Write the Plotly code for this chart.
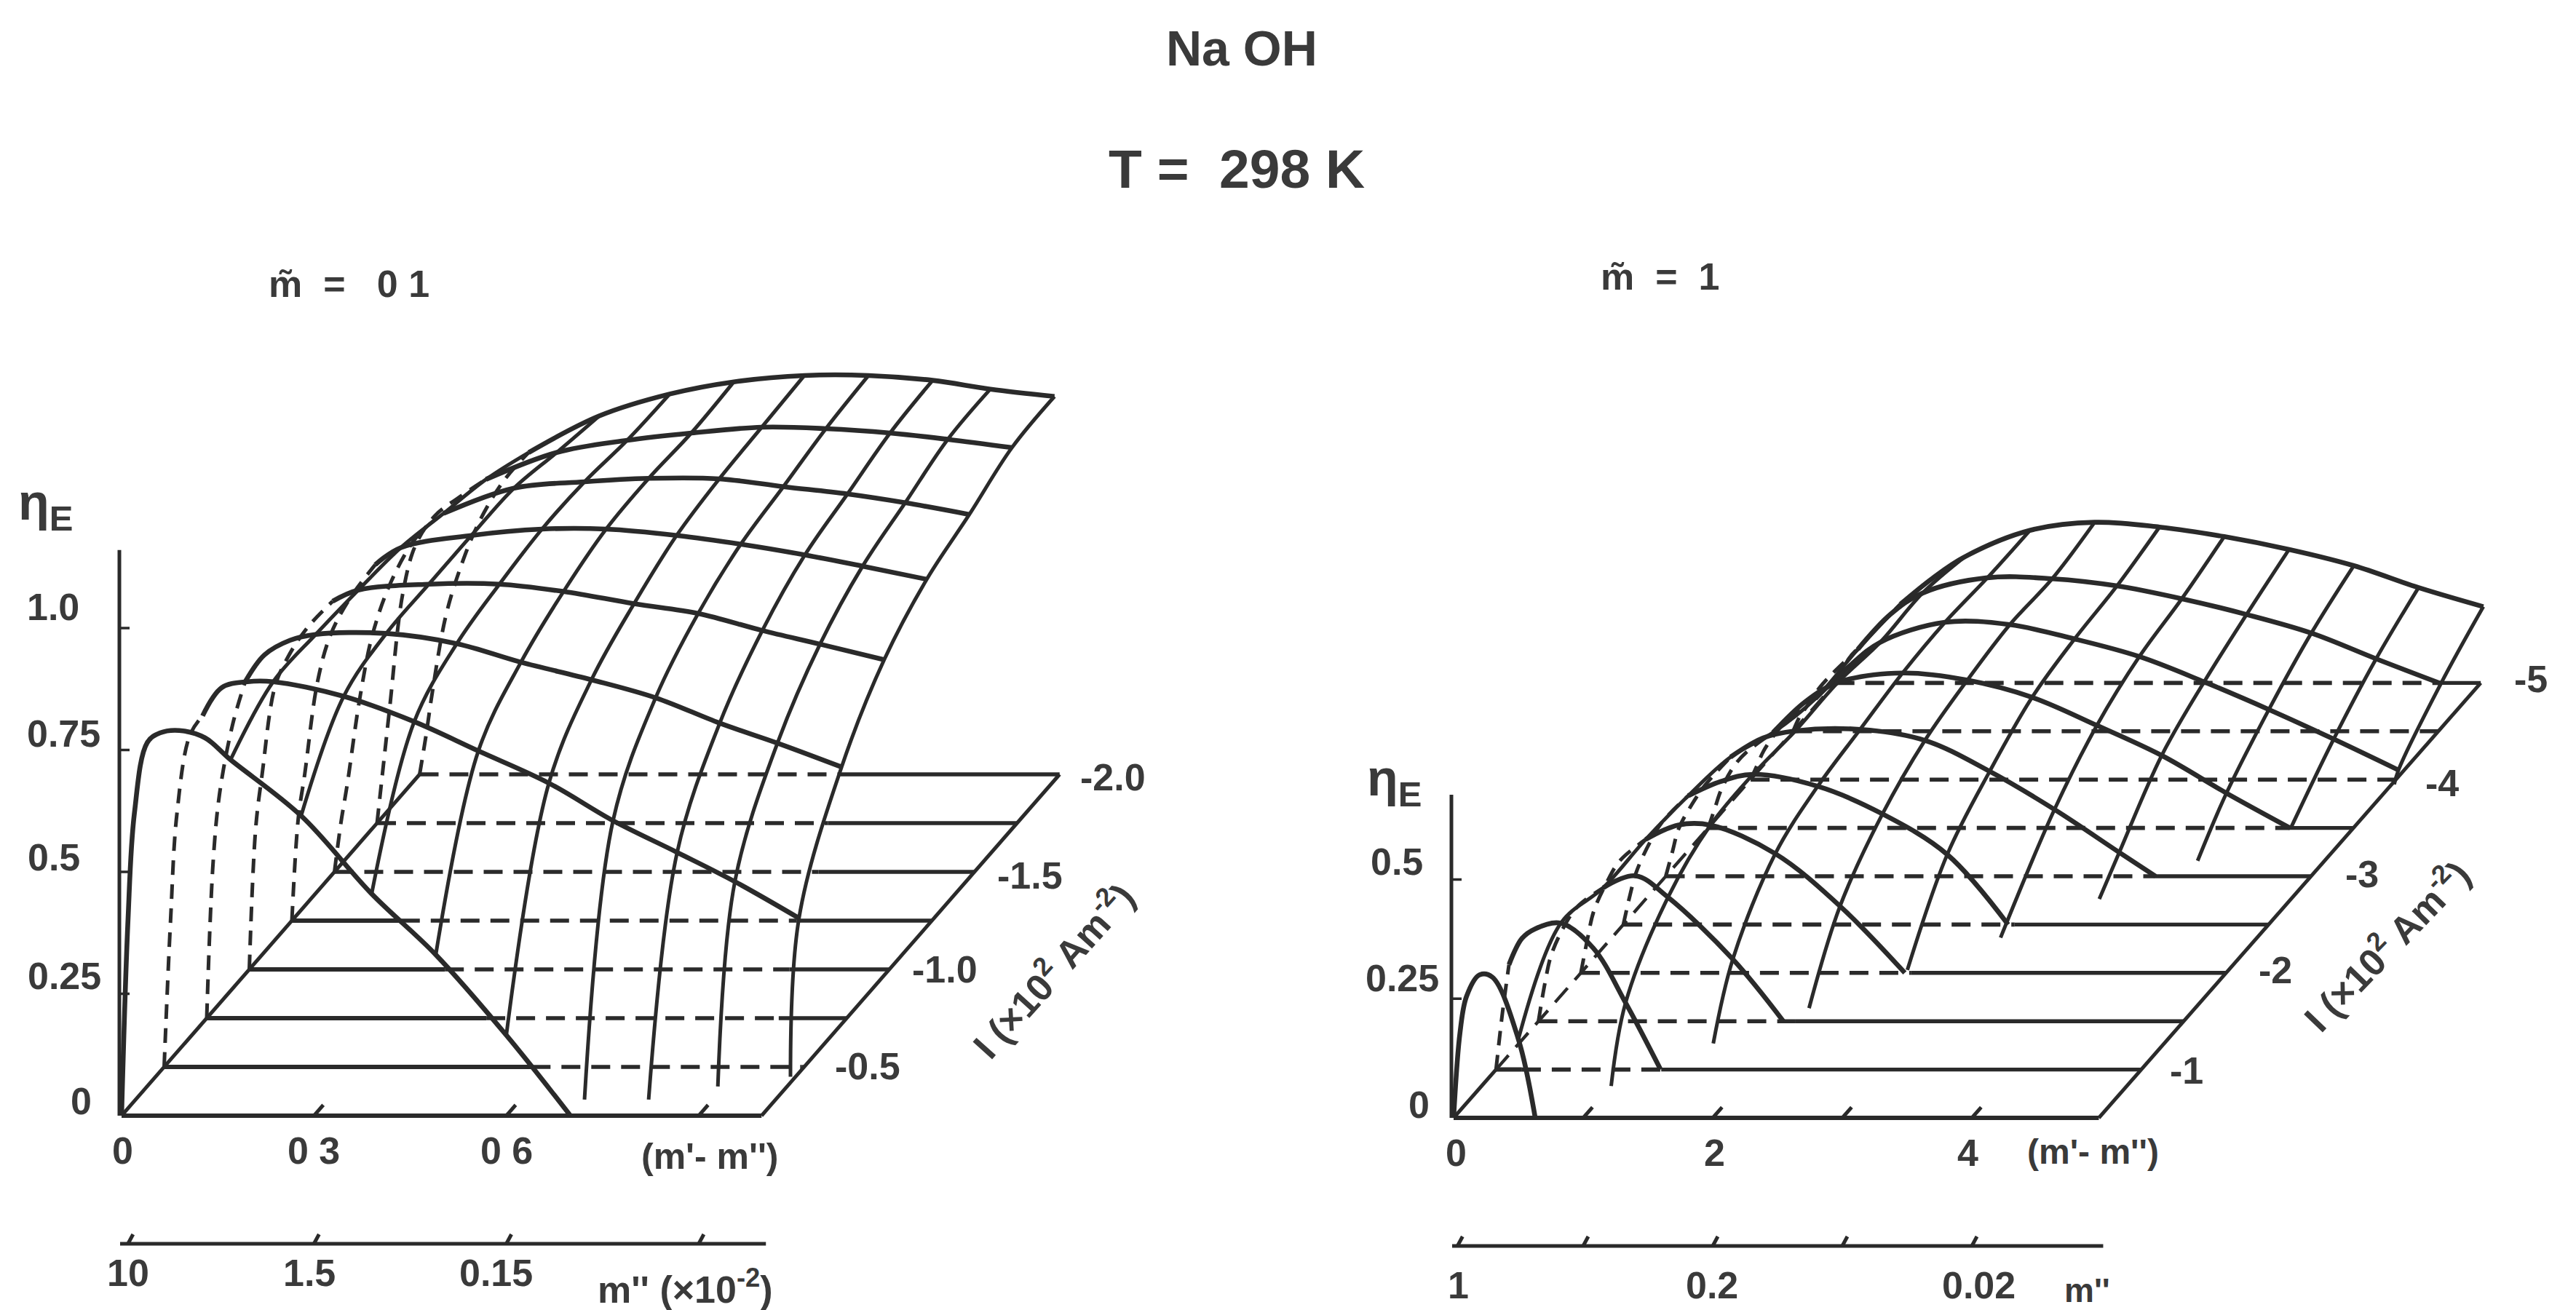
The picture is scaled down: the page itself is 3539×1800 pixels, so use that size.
import plotly.graph_objects as go

# ---------- left panel data (m~ = 0.1) ----------
L_M = [0, .01, .02, .04, .06, .09, .13, .17, .28, .39, .49, .60, .70, .80, .89, .99]
L_ETA_0 = [0, .40, .62, .765, .785, .79, .775, .73, .615, .455, .33, .165, 0, None, None, None]
L_ETA_1 = [0, .30, .52, .68, .72, .778, .79, .79, .76, .708, .648, .582, .505, .44, .38, .305]
L_ETA_2 = [0, .32, .46, .60, .69, .745, .775, .787, .789, .768, .73, .694, .657, .605, .564, .515]
L_ETA_3 = [0, .29, .40, .58, .64, .70, .755, .778, .79, .79, .775, .75, .73, .695, .667, .635]
L_ETA_4 = [0, .21, .30, .49, .585, .66, .73, .765, .79, .803, .803, .79, .772, .75, .727, .70]
L_ETA_5 = [0, .10, .18, .36, .49, .60, .69, .735, .787, .80, .807, .806, .79, .775, .757, .733]
L_ETA_6 = [0, .12, .24, .47, .57, .63, .67, .705, .76, .785, .80, .812, .809, .80, .787, .77]
L_ETA_7 = [0, .08, .17, .32, .41, .51, .60, .66, .735, .78, .805, .818, .818, .808, .79, .775]
L_ETA = [L_ETA_0, L_ETA_1, L_ETA_2, L_ETA_3, L_ETA_4, L_ETA_5, L_ETA_6, L_ETA_7]
L_SOLID_FROM = [0, .06, .06, .13, .13, .17, .17, .17]
L_END_M = [None] * 8
L_MESH_M = [.17, .28, .39, .49, .60, .70, .80, .89, .99]
L_MESH_START = [0, 0, 0, 0, 0, .33, .33, .6, .8]
L_FLOOR_SOLID = [None, .573, .436, .305, .17, 0, 0, 0]
L_FLOOR_DASH = [None, .994, .892, .842, .787, .755, .703, .656]
L_ETA_TICKS = [.25, .5, .75, 1.0]
L_ETA_LABELS = ["0", "0.25", "0.5", "0.75", "1.0"]
L_BASE_TICKS = [.3, .6, .9]
L_BASE_LABELS = [("0", 0), ("0 3", .3), ("0 6", .6)]
L_CONC_TICKS = [.01, .3, .6, .9]
L_CONC_LABELS = ["10", "1.5", "0.15"]
L_I_LABELS = ["-0.5", "-1.0", "-1.5", "-2.0"]

# ---------- right panel data (m~ = 1) ----------
R_M = [0, .05, .1, .2, .3, .5, .75, 1, 1.5, 2, 2.5, 3, 3.5, 4, 4.5, 5]
R_ETA_0 = [0, .18, .255, .30, .295, .165, None, None, None, None, None, None, None, None, None, None]
R_ETA_1 = [0, .12, .22, .275, .295, .307, .255, .14, None, None, None, None, None, None, None, None]
R_ETA_2 = [0, .08, .14, .20, .24, .28, .305, .26, .13, None, None, None, None, None, None, None]
R_ETA_3 = [0, .07, .13, .19, .235, .28, .31, .31, .25, .14, None, None, None, None, None, None]
R_ETA_4 = [0, .06, .11, .17, .215, .27, .30, .315, .29, .232, .147, None, None, None, None, None]
R_ETA_5 = [0, .05, .10, .15, .19, .25, .29, .305, .308, .285, .22, .14, .05, None, None, None]
R_ETA_6 = [0, .04, .08, .13, .16, .20, .265, .305, .325, .31, .274, .215, .152, .073, None, None]
R_ETA_7 = [0, .03, .06, .10, .13, .17, .235, .288, .33, .325, .295, .258, .205, .147, .085, .02]
R_ETA_8 = [0, .03, .05, .09, .12, .172, .245, .29, .322, .32, .305, .278, .245, .206, .152, .10]
R_ETA_9 = [0, .02, .05, .08, .11, .165, .22, .265, .32, .337, .327, .307, .28, .246, .20, .16]
R_ETA = [R_ETA_0, R_ETA_1, R_ETA_2, R_ETA_3, R_ETA_4, R_ETA_5, R_ETA_6, R_ETA_7, R_ETA_8, R_ETA_9]
R_SOLID_FROM = [0, .1, .5, .5, .5, .5, .5, .5, .5, .5]
R_END_M = [.63, 1.27, 1.89, 2.5, 2.97, 3.78, 4.49, None, None, None]
R_MESH_M = [.5, 1, 1.5, 2, 2.5, 3, 3.5, 4, 4.5, 5]
R_MESH_START = [0, .66, 1.54, 2.27, 3.06, 3.73, 4.53, 5.32, 5.98, 6.9]
R_FLOOR_SOLID = [None, .2, 0, 0, 0, 0, 0, 0, 0, 0]
R_FLOOR_DASH = [None, 1.275, 1.98, 2.55, 3.02, 3.795, 4.49, 4.98, 4.98, 4.68]
R_ETA_TICKS = [.25, .5]
R_BASE_TICKS = [1, 2, 3, 4]
R_CONC_TICKS = [.03, 1, 2, 3, 4]
R_CONC_LABELS = ["1", "0.2", "0.02"]
R_I_LABELS = ["-1", "-2", "-3", "-4", "-5"]

INK = "#2a2a2a"
TEXT_INK = "#3a3a3a"
FONT = "Liberation Sans"
DASH = "26px,15px"
THIN, THICK = 5, 6.6

LEFT = dict(x0=167, y0=1533, ax=881, bx=58.5, by=67, h=670, mmax=.998, conc_y=1709)
RIGHT = dict(x0=1997, y0=1536, ax=178, bx=58.3, by=66.4, h=655, mmax=4.98, conc_y=1712)


def proj(p, m, k, eta=0):
    return p["x0"] + p["ax"] * m + p["bx"] * k, p["y0"] - p["by"] * k - p["h"] * eta


fig = go.Figure()


def line(pts, width=THIN, dash=None, spline=False):
    fig.add_trace(go.Scatter(
        x=[q[0] for q in pts], y=[q[1] for q in pts], mode="lines", hoverinfo="skip",
        line=dict(color=INK, width=width, dash=dash or "solid",
                  shape="spline" if spline else "linear", smoothing=1.0)))


def draw_surface(p, M, ETA, solid_from, end_m, mesh_m, mesh_start, floor_solid, floor_dash, depth_solid_k):
    n = len(ETA)
    line([proj(p, 0, 0), proj(p, p["mmax"], 0)], THICK - .6)
    line([proj(p, p["mmax"], 0), proj(p, p["mmax"], n - 1)], THIN)
    line([proj(p, 0, 0), proj(p, 0, depth_solid_k)], THIN)
    if depth_solid_k < n - 1:
        line([proj(p, 0, depth_solid_k), proj(p, 0, n - 1)], THIN - .6, DASH)
    for k in range(1, n):
        s, d = floor_solid[k], floor_dash[k]
        if s > 0:
            line([proj(p, 0, k), proj(p, s, k)], THICK - .6)
        line([proj(p, s, k), proj(p, d, k)], THICK - 1, DASH)
        if d < p["mmax"]:
            line([proj(p, d, k), proj(p, p["mmax"], k)], THIN + .4)
    for m, start in zip(mesh_m, mesh_start):
        j = M.index(m)
        pts = [proj(p, m, start, 0)] if start > 0 else []
        for k in range(n):
            if k >= start and ETA[k][j] is not None:
                pts.append(proj(p, m, k, ETA[k][j]))
        line(pts, THIN, spline=True)
    for k, row in enumerate(ETA):
        ms = [(m, e) for m, e in zip(M, row) if e is not None]
        if end_m[k] is not None:
            ms.append((end_m[k], 0))
        hidden = [proj(p, m, k, e) for m, e in ms if m <= solid_from[k]]
        seen = [proj(p, m, k, e) for m, e in ms if m >= solid_from[k]]
        if len(hidden) > 1:
            line(hidden, THIN, "20px,13px", spline=True)
        line(seen, THICK, spline=True)


def label(x, y, text, size=52, angle=0):
    fig.add_annotation(x=x, y=y, text=text, showarrow=False, textangle=angle,
                       font=dict(family=FONT, size=size, color=TEXT_INK, weight=700),
                       xanchor="center", yanchor="middle")


def draw_axes(p, eta_top, eta_ticks, base_ticks, conc_ticks):
    ax_x = p["x0"] - 3
    line([(ax_x, p["y0"]), (ax_x, p["y0"] - p["h"] * eta_top)], THIN)
    for e in eta_ticks:
        y = p["y0"] - p["h"] * e
        line([(ax_x, y), (ax_x + 14, y)], 3.5)
    for m in base_ticks:
        line([proj(p, m, 0), proj(p, m, .22)], THIN)
    xe = proj(p, p["mmax"], 0)[0] + 6
    line([(p["x0"] - 2, p["conc_y"]), (xe, p["conc_y"])], THIN)
    for m in conc_ticks:
        x = proj(p, m, 0)[0]
        line([(x, p["conc_y"]), (x + 7, p["conc_y"] - 13)], THIN)


draw_surface(LEFT, L_M, L_ETA, L_SOLID_FROM, L_END_M, L_MESH_M, L_MESH_START,
             L_FLOOR_SOLID, L_FLOOR_DASH, 7)
draw_surface(RIGHT, R_M, R_ETA, R_SOLID_FROM, R_END_M, R_MESH_M, R_MESH_START,
             R_FLOOR_SOLID, R_FLOOR_DASH, 1)
draw_axes(LEFT, 1.16, L_ETA_TICKS, L_BASE_TICKS, L_CONC_TICKS)
draw_axes(RIGHT, .678, R_ETA_TICKS, R_BASE_TICKS, R_CONC_TICKS)

label(1706, 66, "Na OH", 68)
label(1699, 232, "T =\u00a0\u00a0298\u00a0K", 75)
label(479, 390, "m\u0303\u00a0\u00a0=\u00a0\u00a0\u00a00\u00a01", 52)
label(2280, 380, "m\u0303\u00a0\u00a0=\u00a0\u00a01", 52)

for (x, y), t in zip([(111, 1513), (88, 1341), (74, 1178), (87, 1008), (73, 834)], L_ETA_LABELS):
    label(x, y, t)
label(62, 695, "\u03b7<sub>E</sub>", 70)
for t, m in L_BASE_LABELS:
    label(proj(LEFT, m, 0)[0] - (0 if m else -1), 1581, t)
label(975, 1589, "(m'- m'')", 50)
for x, t in zip([176, 425, 681], L_CONC_LABELS):
    label(x, 1749, t)
label(941, 1768, "m'' (\u00d710<sup>-2</sup>)", 52)
for (x, y), t in zip([(1192, 1465), (1298, 1332), (1415, 1203), (1529, 1068)], L_I_LABELS):
    label(x, y, t)
label(1445, 1332, "I (\u00d710<sup>2</sup> Am<sup>-2</sup>)", 52, -48)

for (x, y), t in zip([(1949, 1518), (1926, 1344), (1919, 1184)], ["0", "0.25", "0.5"]):
    label(x, y, t)
label(1915, 1074, "\u03b7<sub>E</sub>", 70)
for x, t in zip([2000, 2355, 2703], ["0", "2", "4"]):
    label(x, 1584, t)
label(2875, 1582, "(m'- m'')", 48)
for x, t in zip([2003, 2352, 2718], R_CONC_LABELS):
    label(x, 1766, t)
label(2867, 1773, "m''", 46)
for (x, y), t in zip([(3004, 1471), (3126, 1333), (3245, 1201), (3355, 1076), (3477, 933)], R_I_LABELS):
    label(x, y, t)
label(3277, 1298, "I (\u00d710<sup>2</sup> Am<sup>-2</sup>)", 52, -46)

# the page keeps an 8 px body margin, so the data window is offset by the same amount
fig.update_layout(
    width=3539, height=1800, autosize=False, showlegend=False,
    margin=dict(l=0, r=0, t=0, b=0), paper_bgcolor="white", plot_bgcolor="white",
    xaxis=dict(range=[8, 3547], visible=False, fixedrange=True),
    yaxis=dict(range=[1808, 8], visible=False, fixedrange=True),
)
fig.write_html("out.html", config=dict(displayModeBar=False))
